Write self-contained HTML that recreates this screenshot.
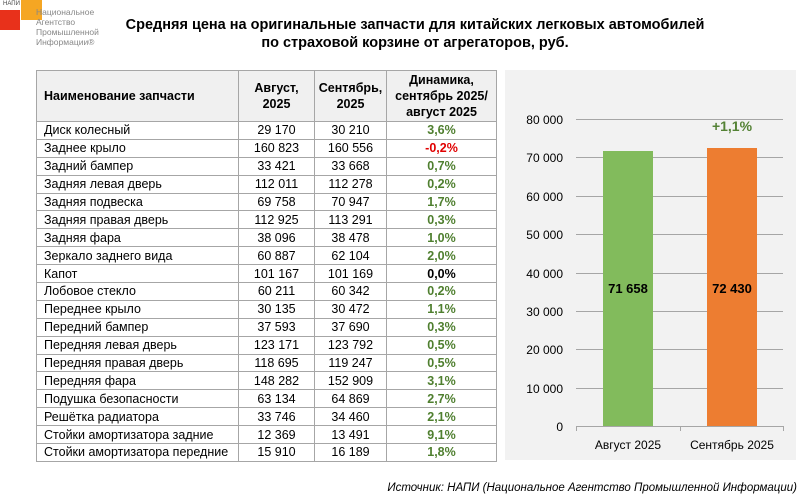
<!DOCTYPE html>
<html><head><meta charset="utf-8"><style>
body{margin:0;width:805px;height:498px;background:#fff;position:relative;font-family:"Liberation Sans","DejaVu Sans",sans-serif;overflow:hidden}
.abs{position:absolute}
table{position:absolute;left:36px;top:70px;border-collapse:collapse;font-size:12.5px;color:#000}
td{border:1px solid #a6a6a6;padding:0;height:16.9px;line-height:16px;text-align:center;white-space:nowrap}
td.n{text-align:left;padding-left:7px}
tr.h td{height:50px;background:#f0f0f0;font-weight:bold;line-height:16px}
.g{color:#4f7f2f;font-weight:bold}.r{color:#e00000;font-weight:bold}
</style></head><body>
<div class="abs" style="left:0;top:10px;width:20px;height:20px;background:#e8311b"></div>
<div class="abs" style="left:21px;top:0;width:21px;height:20px;background:#f5a623"></div>
<div class="abs" style="left:3px;top:1px;font-size:6px;color:#444">НАПИ</div>
<div class="abs" style="left:36px;top:7px;font-size:8.5px;line-height:10px;color:#888">Национальное<br>Агентство<br>Промышленной<br>Информации®</div>
<div class="abs" style="left:100px;top:16px;width:630px;text-align:center;font-weight:bold;font-size:14.5px;line-height:18px">Средняя цена на оригинальные запчасти для китайских легковых автомобилей<br>по страховой корзине от агрегаторов, руб.</div>
<table>
<colgroup><col style="width:202px"><col style="width:76px"><col style="width:72px"><col style="width:110px"></colgroup>
<tr class="h"><td class="n">Наименование запчасти</td><td>Август,<br>2025</td><td>Сентябрь,<br>2025</td><td>Динамика,<br>сентябрь 2025/<br>август 2025</td></tr>
<tr><td class="n">Диск колесный</td><td>29 170</td><td>30 210</td><td class="g">3,6%</td></tr>
<tr><td class="n">Заднее крыло</td><td>160 823</td><td>160 556</td><td class="r">-0,2%</td></tr>
<tr><td class="n">Задний бампер</td><td>33 421</td><td>33 668</td><td class="g">0,7%</td></tr>
<tr><td class="n">Задняя левая дверь</td><td>112 011</td><td>112 278</td><td class="g">0,2%</td></tr>
<tr><td class="n">Задняя подвеска</td><td>69 758</td><td>70 947</td><td class="g">1,7%</td></tr>
<tr><td class="n">Задняя правая дверь</td><td>112 925</td><td>113 291</td><td class="g">0,3%</td></tr>
<tr><td class="n">Задняя фара</td><td>38 096</td><td>38 478</td><td class="g">1,0%</td></tr>
<tr><td class="n">Зеркало заднего вида</td><td>60 887</td><td>62 104</td><td class="g">2,0%</td></tr>
<tr><td class="n">Капот</td><td>101 167</td><td>101 169</td><td style="font-weight:bold">0,0%</td></tr>
<tr><td class="n">Лобовое стекло</td><td>60 211</td><td>60 342</td><td class="g">0,2%</td></tr>
<tr><td class="n">Переднее крыло</td><td>30 135</td><td>30 472</td><td class="g">1,1%</td></tr>
<tr><td class="n">Передний бампер</td><td>37 593</td><td>37 690</td><td class="g">0,3%</td></tr>
<tr><td class="n">Передняя левая дверь</td><td>123 171</td><td>123 792</td><td class="g">0,5%</td></tr>
<tr><td class="n">Передняя правая дверь</td><td>118 695</td><td>119 247</td><td class="g">0,5%</td></tr>
<tr><td class="n">Передняя фара</td><td>148 282</td><td>152 909</td><td class="g">3,1%</td></tr>
<tr><td class="n">Подушка безопасности</td><td>63 134</td><td>64 869</td><td class="g">2,7%</td></tr>
<tr><td class="n">Решётка радиатора</td><td>33 746</td><td>34 460</td><td class="g">2,1%</td></tr>
<tr><td class="n">Стойки амортизатора задние</td><td>12 369</td><td>13 491</td><td class="g">9,1%</td></tr>
<tr><td class="n">Стойки амортизатора передние</td><td>15 910</td><td>16 189</td><td class="g">1,8%</td></tr>
</table>
<svg class="abs" style="left:0;top:0" width="805" height="498" font-family="Liberation Sans, DejaVu Sans, sans-serif">
<rect x="505" y="70" width="291" height="390" fill="#f2f2f2"/>
<g stroke="#a6a6a6" stroke-width="1">
<line x1="576" x2="783" y1="119.5" y2="119.5"/><line x1="576" x2="783" y1="157.5" y2="157.5"/>
<line x1="576" x2="783" y1="196.5" y2="196.5"/><line x1="576" x2="783" y1="234.5" y2="234.5"/>
<line x1="576" x2="783" y1="273.5" y2="273.5"/><line x1="576" x2="783" y1="311.5" y2="311.5"/>
<line x1="576" x2="783" y1="349.5" y2="349.5"/><line x1="576" x2="783" y1="388.5" y2="388.5"/>
<line x1="576" x2="783" y1="426.5" y2="426.5"/>
<line x1="576.5" x2="576.5" y1="426" y2="431"/><line x1="680.5" x2="680.5" y1="426" y2="431"/><line x1="783.5" x2="783.5" y1="426" y2="431"/>
</g>
<g font-size="12" text-anchor="end" fill="#000">
<text x="563" y="124">80 000</text><text x="563" y="162">70 000</text><text x="563" y="201">60 000</text>
<text x="563" y="239">50 000</text><text x="563" y="278">40 000</text><text x="563" y="316">30 000</text>
<text x="563" y="354">20 000</text><text x="563" y="393">10 000</text><text x="563" y="431">0</text>
</g>
<rect x="603" y="151" width="50" height="275" fill="#82bb5c"/>
<rect x="707" y="148" width="50" height="278" fill="#ed7d31"/>
<g font-size="13" font-weight="bold" text-anchor="middle">
<text x="628" y="293">71 658</text><text x="732" y="293">72 430</text>
<text x="732" y="131" fill="#548235" font-size="14">+1,1%</text>
</g>
<g font-size="12" text-anchor="middle"><text x="628" y="449">Август 2025</text><text x="732" y="449">Сентябрь 2025</text></g>
<text x="797" y="491" font-size="11.5" font-style="italic" text-anchor="end">Источник: НАПИ (Национальное Агентство Промышленной Информации)</text>
</svg>
</body></html>
